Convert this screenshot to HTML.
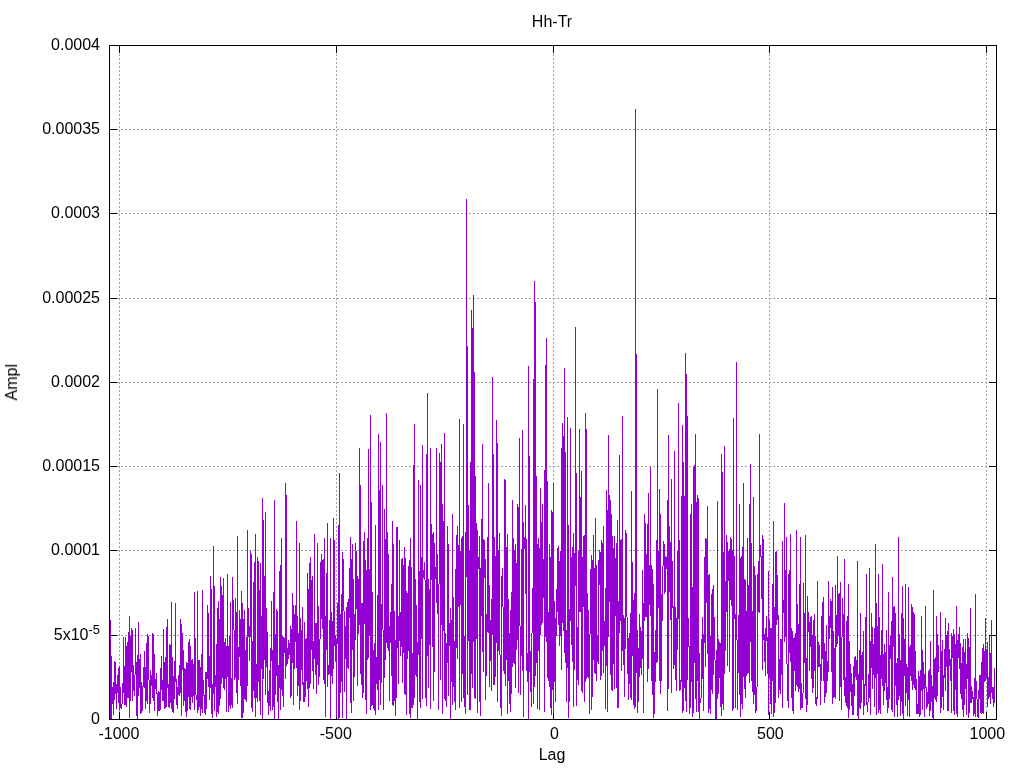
<!DOCTYPE html>
<html><head><meta charset="utf-8"><title>Hh-Tr</title>
<style>
html,body{margin:0;padding:0;background:#fff;}
body{width:1024px;height:768px;overflow:hidden;}
svg{display:block;}
text{font-family:"Liberation Sans",sans-serif;font-size:16px;fill:#000;}
.g{stroke:#a0a0a0;stroke-width:1;stroke-dasharray:2 2;fill:none;shape-rendering:crispEdges;}
.k{stroke:#000;stroke-width:1;fill:none;shape-rendering:crispEdges;}
.d{fill:#9400d3;shape-rendering:crispEdges;}
</style></head><body>
<svg width="1024" height="768" viewBox="0 0 1024 768">
<rect width="1024" height="768" fill="#fff"/>

<g class="g">
<line x1="119.5" y1="54" x2="119.5" y2="712"/>
<line x1="336.5" y1="54" x2="336.5" y2="712"/>
<line x1="553.5" y1="54" x2="553.5" y2="712"/>
<line x1="769.5" y1="54" x2="769.5" y2="712"/>
<line x1="986.5" y1="54" x2="986.5" y2="712"/>
<line x1="117" y1="635.50" x2="989" y2="635.50"/>
<line x1="117" y1="550.50" x2="989" y2="550.50"/>
<line x1="117" y1="466.50" x2="989" y2="466.50"/>
<line x1="117" y1="382.50" x2="989" y2="382.50"/>
<line x1="117" y1="298.50" x2="989" y2="298.50"/>
<line x1="117" y1="213.50" x2="989" y2="213.50"/>
<line x1="117" y1="129.50" x2="989" y2="129.50"/>
</g>
<g class="k">
<line x1="119.5" y1="719.5" x2="119.5" y2="712.0"/>
<line x1="119.5" y1="45.5" x2="119.5" y2="53.0"/>
<line x1="336.5" y1="719.5" x2="336.5" y2="712.0"/>
<line x1="336.5" y1="45.5" x2="336.5" y2="53.0"/>
<line x1="553.5" y1="719.5" x2="553.5" y2="712.0"/>
<line x1="553.5" y1="45.5" x2="553.5" y2="53.0"/>
<line x1="769.5" y1="719.5" x2="769.5" y2="712.0"/>
<line x1="769.5" y1="45.5" x2="769.5" y2="53.0"/>
<line x1="986.5" y1="719.5" x2="986.5" y2="712.0"/>
<line x1="986.5" y1="45.5" x2="986.5" y2="53.0"/>
<line x1="109.5" y1="719.50" x2="117.0" y2="719.50"/>
<line x1="996.5" y1="719.50" x2="989.0" y2="719.50"/>
<line x1="109.5" y1="635.50" x2="117.0" y2="635.50"/>
<line x1="996.5" y1="635.50" x2="989.0" y2="635.50"/>
<line x1="109.5" y1="550.50" x2="117.0" y2="550.50"/>
<line x1="996.5" y1="550.50" x2="989.0" y2="550.50"/>
<line x1="109.5" y1="466.50" x2="117.0" y2="466.50"/>
<line x1="996.5" y1="466.50" x2="989.0" y2="466.50"/>
<line x1="109.5" y1="382.50" x2="117.0" y2="382.50"/>
<line x1="996.5" y1="382.50" x2="989.0" y2="382.50"/>
<line x1="109.5" y1="298.50" x2="117.0" y2="298.50"/>
<line x1="996.5" y1="298.50" x2="989.0" y2="298.50"/>
<line x1="109.5" y1="213.50" x2="117.0" y2="213.50"/>
<line x1="996.5" y1="213.50" x2="989.0" y2="213.50"/>
<line x1="109.5" y1="129.50" x2="117.0" y2="129.50"/>
<line x1="996.5" y1="129.50" x2="989.0" y2="129.50"/>
<line x1="109.5" y1="45.50" x2="117.0" y2="45.50"/>
<line x1="996.5" y1="45.50" x2="989.0" y2="45.50"/>
</g>
<g class="d">
<rect x="110" y="620" width="1" height="99"/>
<rect x="111" y="656" width="1" height="63"/>
<rect x="112" y="687" width="1" height="17"/>
<rect x="113" y="682" width="1" height="33"/>
<rect x="114" y="661" width="1" height="39"/>
<rect x="115" y="662" width="1" height="32"/>
<rect x="116" y="684" width="1" height="25"/>
<rect x="117" y="675" width="1" height="18"/>
<rect x="118" y="668" width="1" height="35"/>
<rect x="119" y="666" width="1" height="44"/>
<rect x="120" y="687" width="1" height="21"/>
<rect x="121" y="704" width="1" height="5"/>
<rect x="122" y="683" width="1" height="21"/>
<rect x="123" y="637" width="1" height="56"/>
<rect x="124" y="666" width="1" height="39"/>
<rect x="125" y="637" width="1" height="68"/>
<rect x="126" y="646" width="1" height="61"/>
<rect x="127" y="642" width="1" height="56"/>
<rect x="128" y="632" width="1" height="66"/>
<rect x="129" y="616" width="1" height="102"/>
<rect x="130" y="636" width="1" height="65"/>
<rect x="131" y="628" width="1" height="44"/>
<rect x="132" y="630" width="1" height="71"/>
<rect x="133" y="665" width="1" height="26"/>
<rect x="134" y="675" width="1" height="21"/>
<rect x="135" y="628" width="1" height="47"/>
<rect x="136" y="662" width="1" height="54"/>
<rect x="137" y="655" width="1" height="64"/>
<rect x="138" y="622" width="1" height="74"/>
<rect x="139" y="659" width="1" height="29"/>
<rect x="140" y="654" width="1" height="60"/>
<rect x="141" y="682" width="1" height="31"/>
<rect x="142" y="686" width="1" height="25"/>
<rect x="143" y="667" width="1" height="20"/>
<rect x="144" y="651" width="1" height="37"/>
<rect x="145" y="667" width="1" height="42"/>
<rect x="146" y="643" width="1" height="58"/>
<rect x="147" y="634" width="1" height="70"/>
<rect x="148" y="636" width="1" height="44"/>
<rect x="149" y="680" width="1" height="33"/>
<rect x="150" y="670" width="1" height="34"/>
<rect x="151" y="675" width="1" height="11"/>
<rect x="152" y="633" width="1" height="65"/>
<rect x="153" y="634" width="1" height="67"/>
<rect x="154" y="654" width="1" height="57"/>
<rect x="155" y="679" width="1" height="10"/>
<rect x="156" y="673" width="1" height="21"/>
<rect x="157" y="693" width="1" height="23"/>
<rect x="158" y="691" width="1" height="20"/>
<rect x="159" y="692" width="1" height="19"/>
<rect x="160" y="668" width="1" height="42"/>
<rect x="161" y="656" width="1" height="34"/>
<rect x="162" y="680" width="1" height="21"/>
<rect x="163" y="629" width="1" height="72"/>
<rect x="164" y="662" width="1" height="47"/>
<rect x="165" y="657" width="1" height="51"/>
<rect x="166" y="627" width="1" height="80"/>
<rect x="167" y="619" width="1" height="69"/>
<rect x="168" y="684" width="1" height="23"/>
<rect x="169" y="644" width="1" height="64"/>
<rect x="170" y="645" width="1" height="58"/>
<rect x="171" y="602" width="1" height="107"/>
<rect x="172" y="657" width="1" height="55"/>
<rect x="173" y="676" width="1" height="37"/>
<rect x="174" y="661" width="1" height="38"/>
<rect x="175" y="603" width="1" height="79"/>
<rect x="176" y="679" width="1" height="26"/>
<rect x="177" y="687" width="1" height="22"/>
<rect x="178" y="675" width="1" height="20"/>
<rect x="179" y="665" width="1" height="31"/>
<rect x="180" y="619" width="1" height="74"/>
<rect x="181" y="624" width="1" height="92"/>
<rect x="182" y="633" width="1" height="37"/>
<rect x="183" y="650" width="1" height="56"/>
<rect x="184" y="668" width="1" height="33"/>
<rect x="185" y="669" width="1" height="43"/>
<rect x="186" y="662" width="1" height="55"/>
<rect x="187" y="663" width="1" height="48"/>
<rect x="188" y="642" width="1" height="55"/>
<rect x="189" y="639" width="1" height="70"/>
<rect x="190" y="646" width="1" height="64"/>
<rect x="191" y="660" width="1" height="37"/>
<rect x="192" y="659" width="1" height="44"/>
<rect x="193" y="664" width="1" height="32"/>
<rect x="194" y="592" width="1" height="118"/>
<rect x="195" y="638" width="1" height="57"/>
<rect x="196" y="695" width="1" height="5"/>
<rect x="197" y="591" width="1" height="122"/>
<rect x="198" y="660" width="1" height="50"/>
<rect x="199" y="660" width="1" height="47"/>
<rect x="200" y="667" width="1" height="49"/>
<rect x="201" y="654" width="1" height="55"/>
<rect x="202" y="590" width="1" height="123"/>
<rect x="203" y="680" width="1" height="16"/>
<rect x="204" y="695" width="1" height="18"/>
<rect x="205" y="672" width="1" height="43"/>
<rect x="206" y="672" width="1" height="37"/>
<rect x="207" y="605" width="1" height="74"/>
<rect x="208" y="613" width="1" height="74"/>
<rect x="209" y="656" width="1" height="44"/>
<rect x="210" y="576" width="1" height="112"/>
<rect x="211" y="589" width="1" height="125"/>
<rect x="212" y="684" width="1" height="34"/>
<rect x="213" y="546" width="1" height="148"/>
<rect x="214" y="586" width="1" height="125"/>
<rect x="215" y="675" width="1" height="12"/>
<rect x="216" y="644" width="1" height="73"/>
<rect x="217" y="608" width="1" height="104"/>
<rect x="218" y="601" width="1" height="113"/>
<rect x="219" y="619" width="1" height="87"/>
<rect x="220" y="577" width="1" height="122"/>
<rect x="221" y="586" width="1" height="98"/>
<rect x="222" y="595" width="1" height="83"/>
<rect x="223" y="578" width="1" height="110"/>
<rect x="224" y="642" width="1" height="48"/>
<rect x="225" y="638" width="1" height="41"/>
<rect x="226" y="646" width="1" height="66"/>
<rect x="227" y="574" width="1" height="103"/>
<rect x="228" y="646" width="1" height="66"/>
<rect x="229" y="636" width="1" height="70"/>
<rect x="230" y="602" width="1" height="107"/>
<rect x="231" y="678" width="1" height="27"/>
<rect x="232" y="577" width="1" height="131"/>
<rect x="233" y="600" width="1" height="30"/>
<rect x="234" y="630" width="1" height="50"/>
<rect x="235" y="598" width="1" height="80"/>
<rect x="236" y="612" width="1" height="81"/>
<rect x="237" y="536" width="1" height="168"/>
<rect x="238" y="647" width="1" height="33"/>
<rect x="239" y="610" width="1" height="47"/>
<rect x="240" y="619" width="1" height="67"/>
<rect x="241" y="591" width="1" height="127"/>
<rect x="242" y="603" width="1" height="115"/>
<rect x="243" y="619" width="1" height="94"/>
<rect x="244" y="610" width="1" height="89"/>
<rect x="245" y="650" width="1" height="50"/>
<rect x="246" y="637" width="1" height="65"/>
<rect x="247" y="530" width="1" height="156"/>
<rect x="248" y="608" width="1" height="29"/>
<rect x="249" y="626" width="1" height="35"/>
<rect x="250" y="551" width="1" height="86"/>
<rect x="251" y="554" width="1" height="154"/>
<rect x="252" y="641" width="1" height="71"/>
<rect x="253" y="582" width="1" height="109"/>
<rect x="254" y="562" width="1" height="136"/>
<rect x="255" y="534" width="1" height="183"/>
<rect x="256" y="664" width="1" height="34"/>
<rect x="257" y="557" width="1" height="145"/>
<rect x="258" y="561" width="1" height="121"/>
<rect x="259" y="590" width="1" height="111"/>
<rect x="260" y="563" width="1" height="152"/>
<rect x="261" y="616" width="1" height="53"/>
<rect x="262" y="498" width="1" height="221"/>
<rect x="263" y="520" width="1" height="159"/>
<rect x="264" y="576" width="1" height="84"/>
<rect x="265" y="512" width="1" height="183"/>
<rect x="266" y="608" width="1" height="59"/>
<rect x="267" y="632" width="1" height="71"/>
<rect x="268" y="691" width="1" height="24"/>
<rect x="269" y="670" width="1" height="36"/>
<rect x="270" y="648" width="1" height="63"/>
<rect x="271" y="601" width="1" height="60"/>
<rect x="272" y="650" width="1" height="60"/>
<rect x="273" y="592" width="1" height="115"/>
<rect x="274" y="500" width="1" height="219"/>
<rect x="275" y="634" width="1" height="61"/>
<rect x="276" y="609" width="1" height="67"/>
<rect x="277" y="611" width="1" height="91"/>
<rect x="278" y="665" width="1" height="54"/>
<rect x="279" y="571" width="1" height="117"/>
<rect x="280" y="565" width="1" height="145"/>
<rect x="281" y="538" width="1" height="152"/>
<rect x="282" y="636" width="1" height="60"/>
<rect x="283" y="637" width="1" height="70"/>
<rect x="284" y="638" width="1" height="15"/>
<rect x="285" y="483" width="1" height="196"/>
<rect x="286" y="495" width="1" height="171"/>
<rect x="287" y="648" width="1" height="16"/>
<rect x="288" y="640" width="1" height="19"/>
<rect x="289" y="643" width="1" height="12"/>
<rect x="290" y="626" width="1" height="72"/>
<rect x="291" y="629" width="1" height="67"/>
<rect x="292" y="593" width="1" height="70"/>
<rect x="293" y="605" width="1" height="100"/>
<rect x="294" y="614" width="1" height="55"/>
<rect x="295" y="605" width="1" height="37"/>
<rect x="296" y="521" width="1" height="147"/>
<rect x="297" y="616" width="1" height="80"/>
<rect x="298" y="633" width="1" height="53"/>
<rect x="299" y="543" width="1" height="167"/>
<rect x="300" y="618" width="1" height="83"/>
<rect x="301" y="630" width="1" height="40"/>
<rect x="302" y="607" width="1" height="78"/>
<rect x="303" y="682" width="1" height="20"/>
<rect x="304" y="622" width="1" height="80"/>
<rect x="305" y="639" width="1" height="58"/>
<rect x="306" y="638" width="1" height="43"/>
<rect x="307" y="573" width="1" height="116"/>
<rect x="308" y="589" width="1" height="118"/>
<rect x="309" y="563" width="1" height="125"/>
<rect x="310" y="557" width="1" height="127"/>
<rect x="311" y="580" width="1" height="70"/>
<rect x="312" y="576" width="1" height="95"/>
<rect x="313" y="641" width="1" height="48"/>
<rect x="314" y="534" width="1" height="125"/>
<rect x="315" y="623" width="1" height="52"/>
<rect x="316" y="623" width="1" height="71"/>
<rect x="317" y="543" width="1" height="122"/>
<rect x="318" y="606" width="1" height="79"/>
<rect x="319" y="639" width="1" height="38"/>
<rect x="320" y="562" width="1" height="77"/>
<rect x="321" y="554" width="1" height="65"/>
<rect x="322" y="560" width="1" height="69"/>
<rect x="323" y="559" width="1" height="121"/>
<rect x="324" y="538" width="1" height="146"/>
<rect x="325" y="616" width="1" height="101"/>
<rect x="326" y="573" width="1" height="77"/>
<rect x="327" y="523" width="1" height="164"/>
<rect x="328" y="665" width="1" height="10"/>
<rect x="329" y="620" width="1" height="54"/>
<rect x="330" y="538" width="1" height="181"/>
<rect x="331" y="612" width="1" height="64"/>
<rect x="332" y="621" width="1" height="63"/>
<rect x="333" y="518" width="1" height="151"/>
<rect x="334" y="540" width="1" height="106"/>
<rect x="335" y="635" width="1" height="27"/>
<rect x="336" y="639" width="1" height="78"/>
<rect x="337" y="603" width="1" height="41"/>
<rect x="338" y="525" width="1" height="194"/>
<rect x="339" y="473" width="1" height="245"/>
<rect x="340" y="614" width="1" height="79"/>
<rect x="341" y="594" width="1" height="88"/>
<rect x="342" y="552" width="1" height="166"/>
<rect x="343" y="559" width="1" height="52"/>
<rect x="344" y="611" width="1" height="81"/>
<rect x="345" y="626" width="1" height="33"/>
<rect x="346" y="607" width="1" height="112"/>
<rect x="347" y="602" width="1" height="66"/>
<rect x="348" y="599" width="1" height="70"/>
<rect x="349" y="568" width="1" height="50"/>
<rect x="350" y="537" width="1" height="166"/>
<rect x="351" y="559" width="1" height="154"/>
<rect x="352" y="544" width="1" height="106"/>
<rect x="353" y="579" width="1" height="122"/>
<rect x="354" y="614" width="1" height="63"/>
<rect x="355" y="543" width="1" height="97"/>
<rect x="356" y="551" width="1" height="58"/>
<rect x="357" y="576" width="1" height="110"/>
<rect x="358" y="579" width="1" height="55"/>
<rect x="359" y="448" width="1" height="177"/>
<rect x="360" y="485" width="1" height="189"/>
<rect x="361" y="603" width="1" height="82"/>
<rect x="362" y="603" width="1" height="95"/>
<rect x="363" y="541" width="1" height="152"/>
<rect x="364" y="532" width="1" height="92"/>
<rect x="365" y="560" width="1" height="140"/>
<rect x="366" y="570" width="1" height="144"/>
<rect x="367" y="538" width="1" height="122"/>
<rect x="368" y="449" width="1" height="209"/>
<rect x="369" y="569" width="1" height="67"/>
<rect x="370" y="415" width="1" height="295"/>
<rect x="371" y="502" width="1" height="204"/>
<rect x="372" y="592" width="1" height="113"/>
<rect x="373" y="650" width="1" height="59"/>
<rect x="374" y="643" width="1" height="68"/>
<rect x="375" y="525" width="1" height="190"/>
<rect x="376" y="657" width="1" height="27"/>
<rect x="377" y="595" width="1" height="95"/>
<rect x="378" y="434" width="1" height="276"/>
<rect x="379" y="490" width="1" height="190"/>
<rect x="380" y="442" width="1" height="263"/>
<rect x="381" y="604" width="1" height="79"/>
<rect x="382" y="485" width="1" height="145"/>
<rect x="383" y="630" width="1" height="80"/>
<rect x="384" y="509" width="1" height="169"/>
<rect x="385" y="539" width="1" height="121"/>
<rect x="386" y="413" width="1" height="230"/>
<rect x="387" y="532" width="1" height="116"/>
<rect x="388" y="554" width="1" height="97"/>
<rect x="389" y="626" width="1" height="75"/>
<rect x="390" y="612" width="1" height="31"/>
<rect x="391" y="584" width="1" height="92"/>
<rect x="392" y="521" width="1" height="184"/>
<rect x="393" y="544" width="1" height="162"/>
<rect x="394" y="611" width="1" height="90"/>
<rect x="395" y="640" width="1" height="76"/>
<rect x="396" y="527" width="1" height="171"/>
<rect x="397" y="527" width="1" height="121"/>
<rect x="398" y="616" width="1" height="68"/>
<rect x="399" y="540" width="1" height="101"/>
<rect x="400" y="612" width="1" height="44"/>
<rect x="401" y="559" width="1" height="88"/>
<rect x="402" y="558" width="1" height="125"/>
<rect x="403" y="565" width="1" height="88"/>
<rect x="404" y="547" width="1" height="147"/>
<rect x="405" y="558" width="1" height="137"/>
<rect x="406" y="591" width="1" height="124"/>
<rect x="407" y="593" width="1" height="66"/>
<rect x="408" y="566" width="1" height="85"/>
<rect x="409" y="560" width="1" height="154"/>
<rect x="410" y="538" width="1" height="180"/>
<rect x="411" y="567" width="1" height="141"/>
<rect x="412" y="653" width="1" height="55"/>
<rect x="413" y="465" width="1" height="240"/>
<rect x="414" y="424" width="1" height="274"/>
<rect x="415" y="579" width="1" height="96"/>
<rect x="416" y="605" width="1" height="72"/>
<rect x="417" y="642" width="1" height="77"/>
<rect x="418" y="480" width="1" height="175"/>
<rect x="419" y="571" width="1" height="131"/>
<rect x="420" y="485" width="1" height="223"/>
<rect x="421" y="557" width="1" height="82"/>
<rect x="422" y="445" width="1" height="254"/>
<rect x="423" y="570" width="1" height="8"/>
<rect x="424" y="562" width="1" height="18"/>
<rect x="425" y="580" width="1" height="118"/>
<rect x="426" y="454" width="1" height="252"/>
<rect x="427" y="393" width="1" height="263"/>
<rect x="428" y="579" width="1" height="109"/>
<rect x="429" y="589" width="1" height="56"/>
<rect x="430" y="448" width="1" height="261"/>
<rect x="431" y="524" width="1" height="56"/>
<rect x="432" y="534" width="1" height="113"/>
<rect x="433" y="532" width="1" height="169"/>
<rect x="434" y="543" width="1" height="129"/>
<rect x="435" y="567" width="1" height="12"/>
<rect x="436" y="448" width="1" height="155"/>
<rect x="437" y="554" width="1" height="60"/>
<rect x="438" y="584" width="1" height="126"/>
<rect x="439" y="453" width="1" height="131"/>
<rect x="440" y="462" width="1" height="218"/>
<rect x="441" y="444" width="1" height="181"/>
<rect x="442" y="504" width="1" height="210"/>
<rect x="443" y="521" width="1" height="110"/>
<rect x="444" y="433" width="1" height="266"/>
<rect x="445" y="633" width="1" height="68"/>
<rect x="446" y="643" width="1" height="64"/>
<rect x="447" y="526" width="1" height="137"/>
<rect x="448" y="544" width="1" height="152"/>
<rect x="449" y="623" width="1" height="23"/>
<rect x="450" y="608" width="1" height="111"/>
<rect x="451" y="620" width="1" height="62"/>
<rect x="452" y="514" width="1" height="191"/>
<rect x="453" y="597" width="1" height="90"/>
<rect x="454" y="641" width="1" height="61"/>
<rect x="455" y="569" width="1" height="141"/>
<rect x="456" y="535" width="1" height="113"/>
<rect x="457" y="526" width="1" height="133"/>
<rect x="458" y="545" width="1" height="62"/>
<rect x="459" y="419" width="1" height="289"/>
<rect x="460" y="551" width="1" height="54"/>
<rect x="461" y="538" width="1" height="164"/>
<rect x="462" y="536" width="1" height="138"/>
<rect x="463" y="424" width="1" height="274"/>
<rect x="464" y="636" width="1" height="71"/>
<rect x="465" y="532" width="1" height="182"/>
<rect x="466" y="199" width="1" height="378"/>
<rect x="467" y="346" width="1" height="349"/>
<rect x="468" y="505" width="1" height="136"/>
<rect x="469" y="550" width="1" height="160"/>
<rect x="470" y="462" width="1" height="248"/>
<rect x="471" y="310" width="1" height="364"/>
<rect x="472" y="328" width="1" height="360"/>
<rect x="473" y="295" width="1" height="347"/>
<rect x="474" y="372" width="1" height="326"/>
<rect x="475" y="476" width="1" height="223"/>
<rect x="476" y="523" width="1" height="116"/>
<rect x="477" y="530" width="1" height="183"/>
<rect x="478" y="557" width="1" height="12"/>
<rect x="479" y="536" width="1" height="166"/>
<rect x="480" y="568" width="1" height="148"/>
<rect x="481" y="519" width="1" height="97"/>
<rect x="482" y="444" width="1" height="208"/>
<rect x="483" y="539" width="1" height="133"/>
<rect x="484" y="540" width="1" height="38"/>
<rect x="485" y="559" width="1" height="141"/>
<rect x="486" y="614" width="1" height="62"/>
<rect x="487" y="537" width="1" height="95"/>
<rect x="488" y="483" width="1" height="150"/>
<rect x="489" y="585" width="1" height="102"/>
<rect x="490" y="620" width="1" height="41"/>
<rect x="491" y="599" width="1" height="92"/>
<rect x="492" y="377" width="1" height="258"/>
<rect x="493" y="454" width="1" height="231"/>
<rect x="494" y="537" width="1" height="148"/>
<rect x="495" y="556" width="1" height="121"/>
<rect x="496" y="420" width="1" height="223"/>
<rect x="497" y="443" width="1" height="259"/>
<rect x="498" y="550" width="1" height="101"/>
<rect x="499" y="533" width="1" height="122"/>
<rect x="500" y="655" width="1" height="53"/>
<rect x="501" y="576" width="1" height="140"/>
<rect x="502" y="568" width="1" height="39"/>
<rect x="503" y="607" width="1" height="64"/>
<rect x="504" y="479" width="1" height="195"/>
<rect x="505" y="480" width="1" height="206"/>
<rect x="506" y="547" width="1" height="113"/>
<rect x="507" y="534" width="1" height="180"/>
<rect x="508" y="599" width="1" height="82"/>
<rect x="509" y="633" width="1" height="71"/>
<rect x="510" y="610" width="1" height="102"/>
<rect x="511" y="592" width="1" height="102"/>
<rect x="512" y="500" width="1" height="167"/>
<rect x="513" y="538" width="1" height="125"/>
<rect x="514" y="550" width="1" height="114"/>
<rect x="515" y="544" width="1" height="144"/>
<rect x="516" y="563" width="1" height="87"/>
<rect x="517" y="504" width="1" height="136"/>
<rect x="518" y="507" width="1" height="186"/>
<rect x="519" y="438" width="1" height="188"/>
<rect x="520" y="626" width="1" height="69"/>
<rect x="521" y="549" width="1" height="107"/>
<rect x="522" y="430" width="1" height="241"/>
<rect x="523" y="522" width="1" height="195"/>
<rect x="524" y="537" width="1" height="12"/>
<rect x="525" y="505" width="1" height="89"/>
<rect x="526" y="539" width="1" height="132"/>
<rect x="527" y="653" width="1" height="29"/>
<rect x="528" y="366" width="1" height="353"/>
<rect x="529" y="456" width="1" height="216"/>
<rect x="530" y="651" width="1" height="41"/>
<rect x="531" y="633" width="1" height="74"/>
<rect x="532" y="588" width="1" height="45"/>
<rect x="533" y="379" width="1" height="325"/>
<rect x="534" y="281" width="1" height="406"/>
<rect x="535" y="302" width="1" height="374"/>
<rect x="536" y="476" width="1" height="187"/>
<rect x="537" y="544" width="1" height="165"/>
<rect x="538" y="538" width="1" height="113"/>
<rect x="539" y="548" width="1" height="162"/>
<rect x="540" y="488" width="1" height="147"/>
<rect x="541" y="522" width="1" height="103"/>
<rect x="542" y="504" width="1" height="119"/>
<rect x="543" y="559" width="1" height="39"/>
<rect x="544" y="470" width="1" height="242"/>
<rect x="545" y="365" width="1" height="272"/>
<rect x="546" y="338" width="1" height="304"/>
<rect x="547" y="481" width="1" height="197"/>
<rect x="548" y="612" width="1" height="69"/>
<rect x="549" y="544" width="1" height="143"/>
<rect x="550" y="557" width="1" height="151"/>
<rect x="551" y="510" width="1" height="205"/>
<rect x="552" y="512" width="1" height="178"/>
<rect x="553" y="483" width="1" height="230"/>
<rect x="554" y="601" width="1" height="81"/>
<rect x="555" y="618" width="1" height="84"/>
<rect x="556" y="589" width="1" height="47"/>
<rect x="557" y="548" width="1" height="64"/>
<rect x="558" y="546" width="1" height="79"/>
<rect x="559" y="561" width="1" height="85"/>
<rect x="560" y="551" width="1" height="85"/>
<rect x="561" y="448" width="1" height="222"/>
<rect x="562" y="423" width="1" height="200"/>
<rect x="563" y="436" width="1" height="195"/>
<rect x="564" y="368" width="1" height="285"/>
<rect x="565" y="452" width="1" height="211"/>
<rect x="566" y="630" width="1" height="72"/>
<rect x="567" y="417" width="1" height="251"/>
<rect x="568" y="525" width="1" height="193"/>
<rect x="569" y="609" width="1" height="93"/>
<rect x="570" y="428" width="1" height="193"/>
<rect x="571" y="557" width="1" height="88"/>
<rect x="572" y="547" width="1" height="115"/>
<rect x="573" y="533" width="1" height="174"/>
<rect x="574" y="553" width="1" height="117"/>
<rect x="575" y="327" width="1" height="259"/>
<rect x="576" y="473" width="1" height="233"/>
<rect x="577" y="627" width="1" height="53"/>
<rect x="578" y="551" width="1" height="134"/>
<rect x="579" y="429" width="1" height="183"/>
<rect x="580" y="497" width="1" height="115"/>
<rect x="581" y="471" width="1" height="220"/>
<rect x="582" y="557" width="1" height="136"/>
<rect x="583" y="536" width="1" height="71"/>
<rect x="584" y="535" width="1" height="167"/>
<rect x="585" y="413" width="1" height="269"/>
<rect x="586" y="429" width="1" height="250"/>
<rect x="587" y="593" width="1" height="84"/>
<rect x="588" y="610" width="1" height="68"/>
<rect x="589" y="634" width="1" height="80"/>
<rect x="590" y="569" width="1" height="65"/>
<rect x="591" y="555" width="1" height="155"/>
<rect x="592" y="560" width="1" height="137"/>
<rect x="593" y="535" width="1" height="125"/>
<rect x="594" y="568" width="1" height="105"/>
<rect x="595" y="518" width="1" height="156"/>
<rect x="596" y="565" width="1" height="116"/>
<rect x="597" y="635" width="1" height="27"/>
<rect x="598" y="560" width="1" height="104"/>
<rect x="599" y="550" width="1" height="35"/>
<rect x="600" y="552" width="1" height="128"/>
<rect x="601" y="540" width="1" height="136"/>
<rect x="602" y="543" width="1" height="108"/>
<rect x="603" y="526" width="1" height="147"/>
<rect x="604" y="621" width="1" height="25"/>
<rect x="605" y="588" width="1" height="121"/>
<rect x="606" y="490" width="1" height="176"/>
<rect x="607" y="510" width="1" height="202"/>
<rect x="608" y="435" width="1" height="202"/>
<rect x="609" y="495" width="1" height="107"/>
<rect x="610" y="500" width="1" height="175"/>
<rect x="611" y="514" width="1" height="176"/>
<rect x="612" y="536" width="1" height="155"/>
<rect x="613" y="548" width="1" height="116"/>
<rect x="614" y="536" width="1" height="153"/>
<rect x="615" y="558" width="1" height="58"/>
<rect x="616" y="543" width="1" height="145"/>
<rect x="617" y="520" width="1" height="188"/>
<rect x="618" y="601" width="1" height="107"/>
<rect x="619" y="455" width="1" height="178"/>
<rect x="620" y="540" width="1" height="81"/>
<rect x="621" y="539" width="1" height="132"/>
<rect x="622" y="416" width="1" height="235"/>
<rect x="623" y="615" width="1" height="50"/>
<rect x="624" y="618" width="1" height="79"/>
<rect x="625" y="530" width="1" height="119"/>
<rect x="626" y="533" width="1" height="84"/>
<rect x="627" y="617" width="1" height="57"/>
<rect x="628" y="638" width="1" height="62"/>
<rect x="629" y="633" width="1" height="51"/>
<rect x="630" y="613" width="1" height="85"/>
<rect x="631" y="491" width="1" height="209"/>
<rect x="632" y="562" width="1" height="94"/>
<rect x="633" y="600" width="1" height="105"/>
<rect x="634" y="593" width="1" height="116"/>
<rect x="635" y="109" width="1" height="598"/>
<rect x="636" y="354" width="1" height="319"/>
<rect x="637" y="630" width="1" height="83"/>
<rect x="638" y="648" width="1" height="54"/>
<rect x="639" y="614" width="1" height="63"/>
<rect x="640" y="627" width="1" height="41"/>
<rect x="641" y="631" width="1" height="44"/>
<rect x="642" y="570" width="1" height="89"/>
<rect x="643" y="603" width="1" height="110"/>
<rect x="644" y="514" width="1" height="107"/>
<rect x="645" y="523" width="1" height="94"/>
<rect x="646" y="554" width="1" height="63"/>
<rect x="647" y="524" width="1" height="158"/>
<rect x="648" y="493" width="1" height="176"/>
<rect x="649" y="565" width="1" height="40"/>
<rect x="650" y="467" width="1" height="149"/>
<rect x="651" y="565" width="1" height="116"/>
<rect x="652" y="569" width="1" height="126"/>
<rect x="653" y="584" width="1" height="134"/>
<rect x="654" y="652" width="1" height="62"/>
<rect x="655" y="630" width="1" height="52"/>
<rect x="656" y="540" width="1" height="123"/>
<rect x="657" y="389" width="1" height="273"/>
<rect x="658" y="551" width="1" height="57"/>
<rect x="659" y="489" width="1" height="192"/>
<rect x="660" y="514" width="1" height="180"/>
<rect x="661" y="594" width="1" height="87"/>
<rect x="662" y="566" width="1" height="55"/>
<rect x="663" y="541" width="1" height="25"/>
<rect x="664" y="544" width="1" height="50"/>
<rect x="665" y="556" width="1" height="36"/>
<rect x="666" y="557" width="1" height="12"/>
<rect x="667" y="500" width="1" height="211"/>
<rect x="668" y="435" width="1" height="254"/>
<rect x="669" y="526" width="1" height="66"/>
<rect x="670" y="542" width="1" height="78"/>
<rect x="671" y="479" width="1" height="214"/>
<rect x="672" y="561" width="1" height="47"/>
<rect x="673" y="606" width="1" height="63"/>
<rect x="674" y="451" width="1" height="214"/>
<rect x="675" y="607" width="1" height="73"/>
<rect x="676" y="618" width="1" height="73"/>
<rect x="677" y="551" width="1" height="99"/>
<rect x="678" y="403" width="1" height="216"/>
<rect x="679" y="540" width="1" height="151"/>
<rect x="680" y="680" width="1" height="10"/>
<rect x="681" y="496" width="1" height="186"/>
<rect x="682" y="425" width="1" height="288"/>
<rect x="683" y="462" width="1" height="249"/>
<rect x="684" y="496" width="1" height="192"/>
<rect x="685" y="353" width="1" height="348"/>
<rect x="686" y="374" width="1" height="338"/>
<rect x="687" y="416" width="1" height="264"/>
<rect x="688" y="618" width="1" height="29"/>
<rect x="689" y="646" width="1" height="68"/>
<rect x="690" y="514" width="1" height="194"/>
<rect x="691" y="504" width="1" height="178"/>
<rect x="692" y="587" width="1" height="130"/>
<rect x="693" y="467" width="1" height="246"/>
<rect x="694" y="465" width="1" height="198"/>
<rect x="695" y="434" width="1" height="265"/>
<rect x="696" y="502" width="1" height="210"/>
<rect x="697" y="495" width="1" height="186"/>
<rect x="698" y="498" width="1" height="214"/>
<rect x="699" y="653" width="1" height="66"/>
<rect x="700" y="698" width="1" height="5"/>
<rect x="701" y="639" width="1" height="59"/>
<rect x="702" y="617" width="1" height="62"/>
<rect x="703" y="634" width="1" height="77"/>
<rect x="704" y="557" width="1" height="86"/>
<rect x="705" y="538" width="1" height="129"/>
<rect x="706" y="539" width="1" height="64"/>
<rect x="707" y="506" width="1" height="148"/>
<rect x="708" y="575" width="1" height="138"/>
<rect x="709" y="574" width="1" height="135"/>
<rect x="710" y="636" width="1" height="78"/>
<rect x="711" y="594" width="1" height="96"/>
<rect x="712" y="589" width="1" height="105"/>
<rect x="713" y="585" width="1" height="90"/>
<rect x="714" y="617" width="1" height="43"/>
<rect x="715" y="660" width="1" height="59"/>
<rect x="716" y="650" width="1" height="69"/>
<rect x="717" y="501" width="1" height="198"/>
<rect x="718" y="639" width="1" height="55"/>
<rect x="719" y="642" width="1" height="36"/>
<rect x="720" y="643" width="1" height="64"/>
<rect x="721" y="454" width="1" height="262"/>
<rect x="722" y="472" width="1" height="232"/>
<rect x="723" y="552" width="1" height="158"/>
<rect x="724" y="446" width="1" height="228"/>
<rect x="725" y="581" width="1" height="70"/>
<rect x="726" y="535" width="1" height="77"/>
<rect x="727" y="542" width="1" height="124"/>
<rect x="728" y="551" width="1" height="30"/>
<rect x="729" y="549" width="1" height="123"/>
<rect x="730" y="537" width="1" height="63"/>
<rect x="731" y="539" width="1" height="67"/>
<rect x="732" y="550" width="1" height="161"/>
<rect x="733" y="418" width="1" height="291"/>
<rect x="734" y="556" width="1" height="63"/>
<rect x="735" y="614" width="1" height="94"/>
<rect x="736" y="362" width="1" height="278"/>
<rect x="737" y="640" width="1" height="70"/>
<rect x="738" y="615" width="1" height="58"/>
<rect x="739" y="504" width="1" height="191"/>
<rect x="740" y="558" width="1" height="159"/>
<rect x="741" y="556" width="1" height="148"/>
<rect x="742" y="547" width="1" height="162"/>
<rect x="743" y="483" width="1" height="194"/>
<rect x="744" y="579" width="1" height="110"/>
<rect x="745" y="580" width="1" height="118"/>
<rect x="746" y="611" width="1" height="65"/>
<rect x="747" y="538" width="1" height="136"/>
<rect x="748" y="585" width="1" height="88"/>
<rect x="749" y="504" width="1" height="179"/>
<rect x="750" y="464" width="1" height="178"/>
<rect x="751" y="543" width="1" height="138"/>
<rect x="752" y="611" width="1" height="81"/>
<rect x="753" y="497" width="1" height="207"/>
<rect x="754" y="566" width="1" height="129"/>
<rect x="755" y="575" width="1" height="138"/>
<rect x="756" y="687" width="1" height="24"/>
<rect x="757" y="574" width="1" height="113"/>
<rect x="758" y="561" width="1" height="51"/>
<rect x="759" y="434" width="1" height="179"/>
<rect x="760" y="545" width="1" height="12"/>
<rect x="761" y="556" width="1" height="43"/>
<rect x="762" y="535" width="1" height="135"/>
<rect x="763" y="539" width="1" height="101"/>
<rect x="764" y="634" width="1" height="28"/>
<rect x="765" y="628" width="1" height="48"/>
<rect x="766" y="616" width="1" height="25"/>
<rect x="767" y="637" width="1" height="37"/>
<rect x="768" y="571" width="1" height="144"/>
<rect x="769" y="620" width="1" height="58"/>
<rect x="770" y="628" width="1" height="76"/>
<rect x="771" y="628" width="1" height="86"/>
<rect x="772" y="584" width="1" height="97"/>
<rect x="773" y="521" width="1" height="196"/>
<rect x="774" y="607" width="1" height="106"/>
<rect x="775" y="552" width="1" height="151"/>
<rect x="776" y="551" width="1" height="74"/>
<rect x="777" y="575" width="1" height="45"/>
<rect x="778" y="615" width="1" height="83"/>
<rect x="779" y="659" width="1" height="31"/>
<rect x="780" y="639" width="1" height="55"/>
<rect x="781" y="639" width="1" height="36"/>
<rect x="782" y="541" width="1" height="167"/>
<rect x="783" y="600" width="1" height="13"/>
<rect x="784" y="503" width="1" height="139"/>
<rect x="785" y="570" width="1" height="67"/>
<rect x="786" y="537" width="1" height="127"/>
<rect x="787" y="664" width="1" height="37"/>
<rect x="788" y="574" width="1" height="134"/>
<rect x="789" y="570" width="1" height="83"/>
<rect x="790" y="534" width="1" height="128"/>
<rect x="791" y="628" width="1" height="70"/>
<rect x="792" y="631" width="1" height="80"/>
<rect x="793" y="638" width="1" height="76"/>
<rect x="794" y="637" width="1" height="34"/>
<rect x="795" y="633" width="1" height="58"/>
<rect x="796" y="530" width="1" height="155"/>
<rect x="797" y="604" width="1" height="83"/>
<rect x="798" y="624" width="1" height="68"/>
<rect x="799" y="584" width="1" height="105"/>
<rect x="800" y="537" width="1" height="173"/>
<rect x="801" y="683" width="1" height="25"/>
<rect x="802" y="693" width="1" height="15"/>
<rect x="803" y="583" width="1" height="110"/>
<rect x="804" y="613" width="1" height="50"/>
<rect x="805" y="535" width="1" height="164"/>
<rect x="806" y="658" width="1" height="54"/>
<rect x="807" y="596" width="1" height="109"/>
<rect x="808" y="612" width="1" height="20"/>
<rect x="809" y="622" width="1" height="49"/>
<rect x="810" y="617" width="1" height="30"/>
<rect x="811" y="616" width="1" height="63"/>
<rect x="812" y="635" width="1" height="58"/>
<rect x="813" y="620" width="1" height="68"/>
<rect x="814" y="614" width="1" height="57"/>
<rect x="815" y="636" width="1" height="68"/>
<rect x="816" y="697" width="1" height="9"/>
<rect x="817" y="581" width="1" height="118"/>
<rect x="818" y="642" width="1" height="25"/>
<rect x="819" y="645" width="1" height="22"/>
<rect x="820" y="664" width="1" height="41"/>
<rect x="821" y="616" width="1" height="65"/>
<rect x="822" y="602" width="1" height="57"/>
<rect x="823" y="597" width="1" height="84"/>
<rect x="824" y="643" width="1" height="60"/>
<rect x="825" y="651" width="1" height="46"/>
<rect x="826" y="625" width="1" height="68"/>
<rect x="827" y="661" width="1" height="20"/>
<rect x="828" y="581" width="1" height="91"/>
<rect x="829" y="616" width="1" height="23"/>
<rect x="830" y="599" width="1" height="29"/>
<rect x="831" y="601" width="1" height="71"/>
<rect x="832" y="587" width="1" height="117"/>
<rect x="833" y="631" width="1" height="67"/>
<rect x="834" y="648" width="1" height="49"/>
<rect x="835" y="585" width="1" height="114"/>
<rect x="836" y="615" width="1" height="32"/>
<rect x="837" y="556" width="1" height="88"/>
<rect x="838" y="594" width="1" height="42"/>
<rect x="839" y="593" width="1" height="108"/>
<rect x="840" y="582" width="1" height="105"/>
<rect x="841" y="637" width="1" height="73"/>
<rect x="842" y="598" width="1" height="39"/>
<rect x="843" y="614" width="1" height="66"/>
<rect x="844" y="559" width="1" height="137"/>
<rect x="845" y="677" width="1" height="26"/>
<rect x="846" y="621" width="1" height="85"/>
<rect x="847" y="616" width="1" height="92"/>
<rect x="848" y="584" width="1" height="134"/>
<rect x="849" y="641" width="1" height="69"/>
<rect x="850" y="664" width="1" height="28"/>
<rect x="851" y="673" width="1" height="33"/>
<rect x="852" y="684" width="1" height="31"/>
<rect x="853" y="666" width="1" height="49"/>
<rect x="854" y="657" width="1" height="39"/>
<rect x="855" y="656" width="1" height="21"/>
<rect x="856" y="660" width="1" height="20"/>
<rect x="857" y="561" width="1" height="155"/>
<rect x="858" y="674" width="1" height="45"/>
<rect x="859" y="650" width="1" height="58"/>
<rect x="860" y="613" width="1" height="96"/>
<rect x="861" y="655" width="1" height="48"/>
<rect x="862" y="652" width="1" height="28"/>
<rect x="863" y="631" width="1" height="84"/>
<rect x="864" y="684" width="1" height="22"/>
<rect x="865" y="617" width="1" height="69"/>
<rect x="866" y="574" width="1" height="131"/>
<rect x="867" y="702" width="1" height="10"/>
<rect x="868" y="674" width="1" height="28"/>
<rect x="869" y="568" width="1" height="130"/>
<rect x="870" y="641" width="1" height="74"/>
<rect x="871" y="613" width="1" height="55"/>
<rect x="872" y="627" width="1" height="62"/>
<rect x="873" y="644" width="1" height="31"/>
<rect x="874" y="628" width="1" height="79"/>
<rect x="875" y="544" width="1" height="134"/>
<rect x="876" y="603" width="1" height="112"/>
<rect x="877" y="626" width="1" height="48"/>
<rect x="878" y="574" width="1" height="139"/>
<rect x="879" y="617" width="1" height="93"/>
<rect x="880" y="655" width="1" height="59"/>
<rect x="881" y="630" width="1" height="49"/>
<rect x="882" y="564" width="1" height="122"/>
<rect x="883" y="654" width="1" height="51"/>
<rect x="884" y="644" width="1" height="47"/>
<rect x="885" y="652" width="1" height="31"/>
<rect x="886" y="630" width="1" height="70"/>
<rect x="887" y="687" width="1" height="26"/>
<rect x="888" y="592" width="1" height="116"/>
<rect x="889" y="645" width="1" height="54"/>
<rect x="890" y="636" width="1" height="23"/>
<rect x="891" y="621" width="1" height="89"/>
<rect x="892" y="577" width="1" height="135"/>
<rect x="893" y="607" width="1" height="40"/>
<rect x="894" y="606" width="1" height="111"/>
<rect x="895" y="613" width="1" height="73"/>
<rect x="896" y="663" width="1" height="42"/>
<rect x="897" y="658" width="1" height="59"/>
<rect x="898" y="537" width="1" height="163"/>
<rect x="899" y="634" width="1" height="62"/>
<rect x="900" y="660" width="1" height="56"/>
<rect x="901" y="613" width="1" height="89"/>
<rect x="902" y="586" width="1" height="128"/>
<rect x="903" y="618" width="1" height="101"/>
<rect x="904" y="639" width="1" height="37"/>
<rect x="905" y="584" width="1" height="122"/>
<rect x="906" y="664" width="1" height="29"/>
<rect x="907" y="667" width="1" height="49"/>
<rect x="908" y="587" width="1" height="113"/>
<rect x="909" y="647" width="1" height="70"/>
<rect x="910" y="645" width="1" height="31"/>
<rect x="911" y="604" width="1" height="77"/>
<rect x="912" y="607" width="1" height="83"/>
<rect x="913" y="612" width="1" height="73"/>
<rect x="914" y="614" width="1" height="74"/>
<rect x="915" y="651" width="1" height="39"/>
<rect x="916" y="679" width="1" height="35"/>
<rect x="917" y="704" width="1" height="10"/>
<rect x="918" y="671" width="1" height="43"/>
<rect x="919" y="676" width="1" height="41"/>
<rect x="920" y="670" width="1" height="45"/>
<rect x="921" y="616" width="1" height="75"/>
<rect x="922" y="650" width="1" height="60"/>
<rect x="923" y="662" width="1" height="27"/>
<rect x="924" y="674" width="1" height="43"/>
<rect x="925" y="606" width="1" height="82"/>
<rect x="926" y="687" width="1" height="22"/>
<rect x="927" y="692" width="1" height="15"/>
<rect x="928" y="671" width="1" height="33"/>
<rect x="929" y="669" width="1" height="47"/>
<rect x="930" y="641" width="1" height="70"/>
<rect x="931" y="675" width="1" height="27"/>
<rect x="932" y="686" width="1" height="32"/>
<rect x="933" y="590" width="1" height="129"/>
<rect x="934" y="659" width="1" height="39"/>
<rect x="935" y="657" width="1" height="43"/>
<rect x="936" y="616" width="1" height="86"/>
<rect x="937" y="634" width="1" height="62"/>
<rect x="938" y="645" width="1" height="27"/>
<rect x="939" y="667" width="1" height="1"/>
<rect x="940" y="612" width="1" height="101"/>
<rect x="941" y="651" width="1" height="57"/>
<rect x="942" y="640" width="1" height="57"/>
<rect x="943" y="675" width="1" height="35"/>
<rect x="944" y="649" width="1" height="29"/>
<rect x="945" y="618" width="1" height="73"/>
<rect x="946" y="635" width="1" height="32"/>
<rect x="947" y="631" width="1" height="80"/>
<rect x="948" y="623" width="1" height="88"/>
<rect x="949" y="649" width="1" height="17"/>
<rect x="950" y="659" width="1" height="22"/>
<rect x="951" y="633" width="1" height="80"/>
<rect x="952" y="636" width="1" height="22"/>
<rect x="953" y="629" width="1" height="82"/>
<rect x="954" y="634" width="1" height="81"/>
<rect x="955" y="644" width="1" height="46"/>
<rect x="956" y="606" width="1" height="108"/>
<rect x="957" y="640" width="1" height="77"/>
<rect x="958" y="634" width="1" height="24"/>
<rect x="959" y="627" width="1" height="42"/>
<rect x="960" y="643" width="1" height="51"/>
<rect x="961" y="663" width="1" height="36"/>
<rect x="962" y="647" width="1" height="63"/>
<rect x="963" y="639" width="1" height="78"/>
<rect x="964" y="652" width="1" height="53"/>
<rect x="965" y="639" width="1" height="50"/>
<rect x="966" y="664" width="1" height="51"/>
<rect x="967" y="633" width="1" height="46"/>
<rect x="968" y="638" width="1" height="80"/>
<rect x="969" y="647" width="1" height="66"/>
<rect x="970" y="608" width="1" height="95"/>
<rect x="971" y="686" width="1" height="17"/>
<rect x="972" y="691" width="1" height="8"/>
<rect x="973" y="697" width="1" height="19"/>
<rect x="974" y="678" width="1" height="36"/>
<rect x="975" y="594" width="1" height="123"/>
<rect x="976" y="681" width="1" height="18"/>
<rect x="977" y="699" width="1" height="18"/>
<rect x="978" y="690" width="1" height="28"/>
<rect x="979" y="675" width="1" height="24"/>
<rect x="980" y="675" width="1" height="38"/>
<rect x="981" y="662" width="1" height="52"/>
<rect x="982" y="648" width="1" height="65"/>
<rect x="983" y="644" width="1" height="70"/>
<rect x="984" y="651" width="1" height="31"/>
<rect x="985" y="618" width="1" height="63"/>
<rect x="986" y="649" width="1" height="29"/>
<rect x="987" y="642" width="1" height="65"/>
<rect x="988" y="677" width="1" height="22"/>
<rect x="989" y="636" width="1" height="61"/>
<rect x="990" y="653" width="1" height="51"/>
<rect x="991" y="620" width="1" height="73"/>
<rect x="992" y="687" width="1" height="12"/>
<rect x="993" y="687" width="1" height="20"/>
<rect x="994" y="668" width="1" height="35"/>
</g>
<rect class="k" x="109.5" y="45.5" width="887.0" height="674.0"/>
<g style="filter:grayscale(1)">
<text x="100" y="723.50" text-anchor="end">0</text>
<text x="100" y="639.50" text-anchor="end">5x10<tspan dy="-6" font-size="13px">-5</tspan></text>
<text x="100" y="554.50" text-anchor="end">0.0001</text>
<text x="100" y="470.50" text-anchor="end">0.00015</text>
<text x="100" y="386.50" text-anchor="end">0.0002</text>
<text x="100" y="302.50" text-anchor="end">0.00025</text>
<text x="100" y="217.50" text-anchor="end">0.0003</text>
<text x="100" y="133.50" text-anchor="end">0.00035</text>
<text x="100" y="49.50" text-anchor="end">0.0004</text>
<text x="118.9" y="739" text-anchor="middle">-1000</text>
<text x="335.8" y="739" text-anchor="middle">-500</text>
<text x="554.5" y="739" text-anchor="middle">0</text>
<text x="770.4" y="739" text-anchor="middle">500</text>
<text x="987.3" y="739" text-anchor="middle">1000</text>
<text x="552" y="27" text-anchor="middle">Hh-Tr</text>
<text x="552" y="760" text-anchor="middle">Lag</text>
<text transform="translate(17,382.3) rotate(-90)" text-anchor="middle">Ampl</text>
</g>
</svg></body></html>
